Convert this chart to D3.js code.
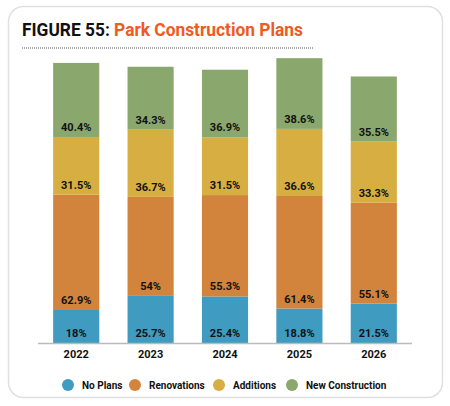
<html>
<head>
<style>
  body { margin: 0; background: #fff; }
  text { font-family: Roboto, "Liberation Sans", sans-serif; }
</style>
</head>
<body>
<svg id="container" width="450" height="406"></svg>
<script src="https://cdn.jsdelivr.net/npm/d3@7"></script>
<script>
  // chart data
  let years = ["2022", "2023", "2024", "2025", "2026"]
  let series = ["No Plans", "Renovations", "Additions", "New Construction"]
  let noPlans = [18, 25.7, 25.4, 18.8, 21.5]
  let renovations = [62.9, 54, 55.3, 61.4, 55.1]
  let additions = [31.5, 36.7, 31.5, 36.6, 33.3]
  let newConstruction = [40.4, 34.3, 36.9, 38.6, 35.5]
  let colors = ["#3f9bbf", "#d3843c", "#d6ae42", "#8aa86e"]

  let svg = d3.select("#container")

  // card frame
  svg.append("rect")
    .attr("x", 8.5).attr("y", 6.5)
    .attr("width", 434).attr("height", 391)
    .attr("rx", 15)
    .attr("fill", "#fff")
    .attr("stroke", "#e0e0e0")
    .attr("stroke-width", 1.5)

  // title
  let title = svg.append("text")
    .attr("x", 22).attr("y", 36)
    .attr("textLength", 281)
    .attr("lengthAdjust", "spacingAndGlyphs")
    .style("font-size", "19px")
    .style("font-weight", "bold")
  title.append("tspan").attr("fill", "#111").text("FIGURE 55: ")
  title.append("tspan").attr("fill", "#f05a1e").text("Park Construction Plans")

  svg.append("line")
    .attr("x1", 22).attr("x2", 313)
    .attr("y1", 48).attr("y2", 48)
    .attr("stroke", "#aaa")
    .attr("stroke-width", 2)
    .attr("stroke-dasharray", "1,1")

  // stack the data
  let table = years.map((y, i) => ({
    year: y,
    "No Plans": noPlans[i],
    "Renovations": renovations[i],
    "Additions": additions[i],
    "New Construction": newConstruction[i]
  }))
  let stacked = d3.stack().keys(series)(table)

  let x = d3.scaleBand()
    .domain(years)
    .range([39, 411])
    .paddingInner(0.38)
    .paddingOuter(0.19)

  let y = d3.scaleLinear()
    .domain([0, 160])
    .range([343, 343 - 160 * 1.833])

  let body = svg.append("g")

  let groups = body.selectAll("g.layer")
    .data(stacked)
    .enter().append("g")
    .attr("fill", (d, i) => colors[i])

  groups.selectAll("rect")
    .data(d => d)
    .enter().append("rect")
    .attr("x", d => x(d.data.year))
    .attr("width", x.bandwidth())
    .attr("y", d => y(d[1]))
    .attr("height", d => y(d[0]) - y(d[1]))

  // value labels near bottom of each segment
  groups.selectAll("text")
    .data(d => d.map(v => ({ v: v, key: d.key })))
    .enter().append("text")
    .attr("x", d => x(d.v.data.year) + x.bandwidth() / 2)
    .attr("y", d => y(d.v[0]) - 6)
    .attr("text-anchor", "middle")
    .attr("fill", "#111")
    .style("font-size", "11px")
    .style("font-weight", "bold")
    .text(d => d.v.data[d.key] + "%")

  // x axis
  let xAxis = svg.append("g")
    .attr("transform", "translate(0,343)")
    .call(d3.axisBottom(x).tickSize(0).tickPadding(7))
  xAxis.select(".domain")
    .attr("d", "M38,0.5H412")
    .attr("stroke", "#bbb")
    .attr("stroke-width", 1.5)
  xAxis.selectAll("text")
    .attr("fill", "#111")
    .style("font-family", "Roboto, sans-serif")
    .style("font-size", "11px")
    .style("font-weight", "bold")

  // legend
  let legendX = [68, 135, 219, 292]
  let legend = svg.selectAll("g.legend")
    .data(series)
    .enter().append("g")
    .attr("transform", (d, i) => "translate(" + legendX[i] + ",385)")
  legend.append("circle")
    .attr("r", 6)
    .attr("fill", (d, i) => colors[i])
  legend.append("text")
    .attr("x", 14)
    .attr("dy", "0.35em")
    .attr("fill", "#111")
    .style("font-size", "10px")
    .style("font-weight", "bold")
    .text(d => d)
</script>
</body>
</html>
